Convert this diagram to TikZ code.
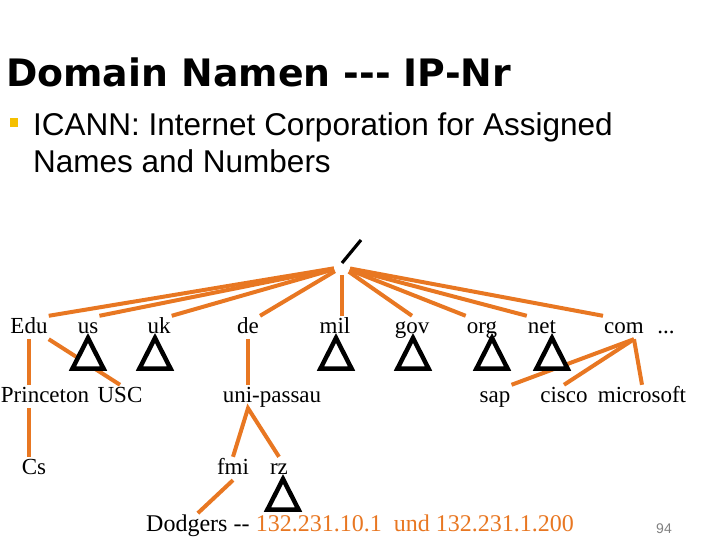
\documentclass[tikz,border=0pt]{standalone}
\usepackage{fontspec}
\setmainfont{Liberation Serif}
\newfontfamily\headfont{DejaVu Sans}
\newfontfamily\slidefont{Liberation Sans}
\usepackage{xcolor}
\definecolor{dnsorange}{HTML}{E87722}
\definecolor{bulletgold}{HTML}{F5C000}
\usetikzlibrary{positioning}

\begin{document}
\begin{tikzpicture}[x=1pt, y=-1pt, inner sep=1pt, every node/.style={font=\fontsize{23}{26}\selectfont}, dom/.style={anchor=base, text height=16pt, text depth=5pt}, link/.style={draw=dnsorange, line width=4pt}, subtree/.pic={\draw[black, line width=4.5pt, fill=white] (0,5) -- (-15.5,35.5) -- (15.5,35.5) -- cycle;}]
\useasboundingbox (0,0) rectangle (720,540);
% heading and bullet
\node[anchor=base west, font=\headfont\bfseries\fontsize{37.8}{40}\selectfont] (title) at (5,87) {Domain Namen -{}-{}- IP-Nr};
\node[fill=bulletgold, minimum size=8.5pt, inner sep=0pt] (bullet) at (14,122.5) {};
\node[anchor=base west, font=\slidefont\fontsize{31.5}{36}\selectfont] (icannA) at (32,136) {ICANN: Internet Corporation for Assigned};
\node[anchor=base west, font=\slidefont\fontsize{31.5}{36}\selectfont] (icannB) at (32,173) {Names and Numbers};
% top level domains
\node[circle, minimum size=16pt, inner sep=0pt] (root) at (342,267) {};
\node[dom] (edu) at (29,333) {Edu};
\node[dom] (us) at (88,333) {us};
\node[dom] (uk) at (159,333) {uk};
\node[dom] (de) at (248,333) {de};
\node[dom] (mil) at (335,333) {mil};
\node[dom] (gov) at (412,333) {gov};
\node[dom] (org) at (482,333) {org};
\node[dom] (net) at (542,333) {net};
\node[dom] (com) at (624,333) {com};
\node[dom] (dots) at (666,333) {...};
% second level
\node[dom] (princeton) at (45,402) {Princeton};
\node[dom] (usc) at (120,402) {USC};
\node[dom] (unipassau) at (272,402) {uni-passau};
\node[dom] (sap) at (495,402) {sap};
\node[dom] (cisco) at (564,402) {cisco};
\node[dom] (microsoft) at (642,402) {microsoft};
% third level
\node[dom] (cs) at (34,474) {Cs};
\node[dom] (fmi) at (233,474) {fmi};
\node[dom] (rz) at (279,474) {rz};
\node[anchor=base west, font=\fontsize{24}{26}\selectfont] (dodgers) at (145,531) {Dodgers -{}-};
\node[anchor=base west, font=\fontsize{24}{26}\selectfont, text=dnsorange] (ips) at ([xshift=4pt]dodgers.base east) {132.231.10.1\ \ und 132.231.1.200};
\node[anchor=base, font=\slidefont\fontsize{14}{16}\selectfont, text=gray] (pagenum) at (664,533) {94};
% connectors
\draw[black, line width=3.2pt] (root.center) ++(0,-4) -- ++(19,-23);
\draw[link] (root) -- (edu.north east); \draw[link] (root) -- (us.north east); \draw[link] (root) -- (uk.north east); \draw[link] (root) -- (de.north east);
\draw[link] (root) -- (root |- mil.north); \draw[link] (root) -- (gov.north); \draw[link] (root) -- (org.north west); \draw[link] (root) -- (net.north west); \draw[link] (root) -- (com.north west);
\draw[link] (edu.south) -- (edu.south |- princeton.north); \draw[link] (edu.south east) -- (usc.north);
\draw[link] (princeton.south -| edu.south) -- (cs.north -| edu.south);
\draw[link] (de.south) -- (de |- unipassau.north); \draw[link] (fmi.north) -- (de |- unipassau.south) -- (rz.north);
\draw[link] (fmi.south) -- (dodgers.north);
\draw[link] ([xshift=10pt]com.south) -- (sap.north east); \draw[link] ([xshift=10pt]com.south) -- (cisco.north); \draw[link] ([xshift=10pt]com.south) -- (microsoft.north);
% subtrees
\pic at (88,333) {subtree}; \pic at (155,333) {subtree}; \pic at (336,333) {subtree};
\pic at (413,333) {subtree}; \pic at (492,333) {subtree}; \pic at (552,333) {subtree};
\pic at (283,474) {subtree};
\end{tikzpicture}
\end{document}
